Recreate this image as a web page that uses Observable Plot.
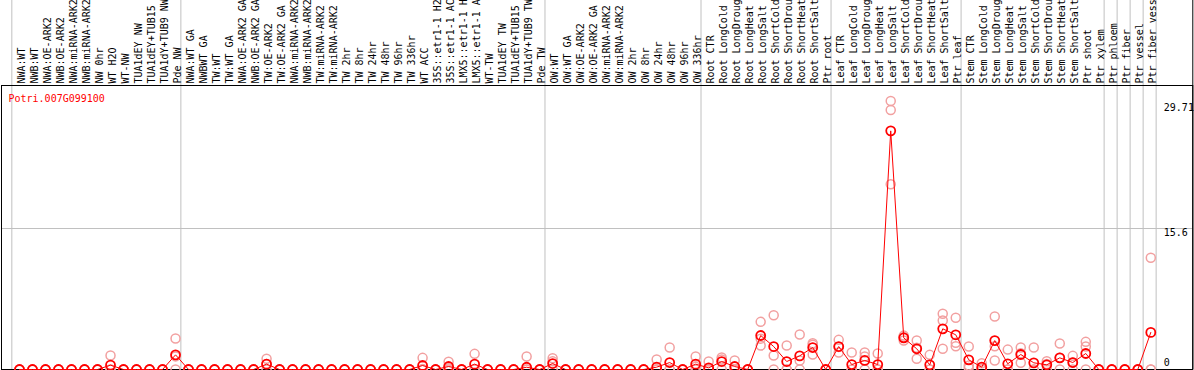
<!DOCTYPE html>
<html><head><meta charset="utf-8">
<script src="https://cdn.jsdelivr.net/npm/d3@7"></script>
<script src="https://cdn.jsdelivr.net/npm/@observablehq/plot@0.6"></script>
<style>body{margin:0;background:#fff}</style>
</head><body><div id="chart"></div>
<script>
const gene = "Potri.007G099100";

const labels = [
  "NWA:WT","NWB:WT","NWA:OE-ARK2","NWB:OE-ARK2","NWA:miRNA-ARK2","NWB:miRNA-ARK2","NW 0hr","WT H2O","WT-NW","TUA1dEY NW","TUA1dEY+TUB15 NW","TUA1dY+TUB9 NW","Pde NW",
  "NWA:WT GA","NWBWT GA","TW:WT","TW:WT GA","NWA:OE-ARK2 GA","NWB:OE-ARK2 GA","TW:OE-ARK2","TW:OE-ARK2 GA","NWA:miRNA-ARK2 GA","NWB:miRNA-ARK2 GA","TW:miRNA-ARK2","TW:miRNA-ARK2 GA",
  "TW 2hr","TW 8hr","TW 24hr","TW 48hr","TW 96hr","TW 336hr","WT ACC","35S::etr1-1 H2O","35S::etr1-1 ACC","LMX5::etr1-1 H2O","LMX5::etr1-1 ACC","WT-TW","TUA1dEY TW","TUA1dEY+TUB15 TW","TUA1dY+TUB9 TW","Pde TW",
  "OW:WT","OW:WT GA","OW:OE-ARK2","OW:OE-ARK2 GA","OW:miRNA-ARK2","OW:miRNA-ARK2 GA","OW 2hr","OW 8hr","OW 24hr","OW 48hr","OW 96hr","OW 336hr",
  "Root CTR","Root LongCold","Root LongDrought","Root LongHeat","Root LongSalt","Root ShortCold","Root ShortDrought","Root ShortHeat","Root ShortSalt","Ptr root",
  "Leaf CTR","Leaf LongCold","Leaf LongDrought","Leaf LongHeat","Leaf LongSalt","Leaf ShortCold","Leaf ShortDrought","Leaf ShortHeat","Leaf ShortSalt","Ptr leaf",
  "Stem CTR","Stem LongCold","Stem LongDrought","Stem LongHeat","Stem LongSalt","Stem ShortCold","Stem ShortDrought","Stem ShortHeat","Stem ShortSalt","Ptr shoot",
  "Ptr xylem","Ptr phloem","Ptr fiber","Ptr vessel","Ptr fiber vessel"
];

const means = [
  0,0,0,0,0,0,0,0.48,0,0,
  0,0,1.62,0,0,0,0,0,0,0.59,
  0,0,0,0,0,0,0,0,0,0,
  0,0.44,0,0.33,0,0.59,0,0,0,0.25,
  0,0.66,0,0,0,0,0,0,0,0.26,
  0.77,0,0.59,0.18,0.88,0.33,0,3.76,2.54,0.88,
  1.51,2.43,0,2.54,0.55,1.0,0.55,26.4,3.5,2.29,
  0.52,4.5,3.84,1.07,0.26,3.2,0.63,1.66,0.74,0.52,
  1.29,0.77,1.77,0,0,0,0,4.1
];

const rep1 = [
  0,0,0,0,0,0,0,1.55,0,0,
  0,0,3.43,0,0,0,0,0,0,1.18,
  0,0,0,0,0,0,0,0,0,0,
  0,1.29,0,0.85,0,1.73,0,0,0,1.44,
  0,1.25,0,0,0,0,0,0,0,1.1,
  2.43,0,1.44,0.88,1.33,1.0,0,5.27,6.0,2.65,
  3.87,2.91,0,3.28,1.88,1.88,1.77,29.71,3.6,3.2,
  1.62,6.16,5.72,2.54,0.7,5.86,2.2,2.43,2.43,0.92,
  2.88,1.51,3.06,0,0,0,0,12.36
];
const rep2 = [
  0,0,0,0,0,0,0,0,0,0,
  0,0,0,0,0,0,0,0,0,0.6,
  0,0,0,0,0,0,0,0,0,0,
  0,0,0,0.15,0,0,0,0,0,0,
  0,0.9,0,0,0,0,0,0,0,0,
  0,0,0.3,0,1.1,0,0,2.65,1.55,0,
  1.0,1.66,0,1.88,0,1.44,0,28.7,3.2,1.18,
  0,5.42,2.95,0.44,0.1,2.58,0,0.74,0,0.6,
  1.3,0.77,2.54,0,0,0,0,0
];
const rep3 = [
  0,0,0,0,0,0,0,0,0,0,
  0,0,1.45,0,0,0,0,0,0,0,
  0,0,0,0,0,0,0,0,0,0,
  0,0.05,0,0,0,0.05,0,0,0,0,
  0,0,0,0,0,0,0,0,0,0,
  0,0,0,0,0,0,0,3.4,0,0,
  0,2.75,0,2.5,0,0,0,20.5,3.75,2.4,
  0,2.29,2.58,0.2,0,1.0,0,1.8,0,0,
  0,0,0,0,0,0,0,0
];

// last category index of each separated block (-1 = before the first)
const groupEnds = [-1, 12, 40, 52, 62, 72, 83, 84, 85, 86, 87];
const yMax = 31.42;
const yGrid = 15.6;
const maxLabel = 29.71;

const meanData = means.map((v, i) => ({i, v}));
const labelData = labels.map((label, i) => ({i, label}));
const repData = [];
[rep1, rep2, rep3].forEach(r => r.forEach((v, i) => repData.push({i, v})));
const lastIndex = labels.length - 1;

const FONT = "DejaVu Sans Mono";
const chart = Plot.plot({
  width: 1194,
  height: 370,
  marginTop: 85,
  marginBottom: 1,
  marginLeft: 19,
  marginRight: 43.7,
  style: {fontFamily: FONT, fontSize: "10px", background: "white", color: "black"},
  x: {type: "linear", domain: [0, lastIndex], axis: null},
  y: {domain: [0, yMax], axis: null},
  marks: [
    Plot.ruleX(groupEnds, {x: d => d + 0.41, stroke: "#c0c0c0", insetTop: -85, insetBottom: -1}),
    Plot.ruleY([yGrid], {stroke: "#c0c0c0", insetLeft: -18, insetRight: -42}),
    Plot.frame({stroke: "black", insetLeft: -18, insetRight: -42}),
    Plot.ruleX([lastIndex], {dx: 42, stroke: "black", insetTop: -85}),
    Plot.dot(repData, {x: "i", y: "v", r: 4.5, stroke: "#f2a0a0", strokeWidth: 1.5, fill: "none"}),
    Plot.line(meanData, {x: "i", y: "v", stroke: "red", strokeWidth: 1}),
    Plot.dot(meanData, {x: "i", y: "v", r: 4.5, stroke: "red", strokeWidth: 1.8, fill: "none"}),
    Plot.text(labelData, {x: "i", text: "label", frameAnchor: "top", rotate: -90, textAnchor: "start", dx: -2, dy: -2, fill: "black", fontFamily: FONT, fontSize: 10}),
    Plot.text([gene], {text: d => d, frameAnchor: "top-left", dx: -11, dy: 9, textAnchor: "start", fill: "red", fontFamily: FONT, fontSize: 10}),
    Plot.text([maxLabel], {y: d => d, text: d => String(d), frameAnchor: "right", dx: 13, dy: 7, textAnchor: "start", fill: "black", fontFamily: FONT, fontSize: 10}),
    Plot.text([yGrid], {y: d => d, text: d => String(d), frameAnchor: "right", dx: 13, dy: 4, textAnchor: "start", fill: "black", fontFamily: FONT, fontSize: 10}),
    Plot.text([0], {y: d => d, text: d => String(d), frameAnchor: "right", dx: 13, dy: -7, textAnchor: "start", fill: "black", fontFamily: FONT, fontSize: 10})
  ]
});
document.getElementById("chart").appendChild(chart);
</script>
</body></html>
